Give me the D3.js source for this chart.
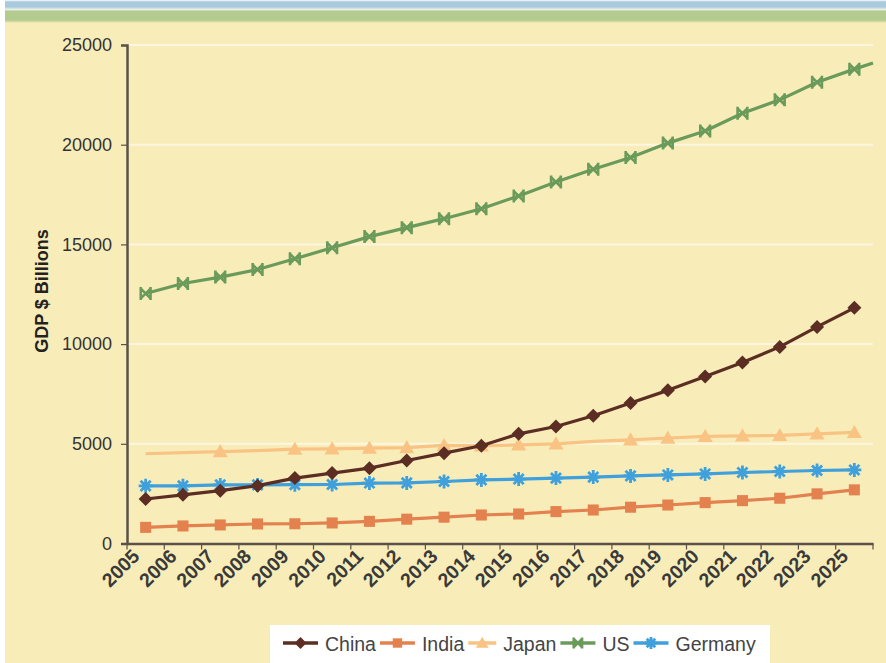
<!DOCTYPE html>
<html><head><meta charset="utf-8">
<script src="https://cdn.jsdelivr.net/npm/d3@7"></script>
<style>
html,body{margin:0;padding:0;background:#fff;}
svg{display:block;font-family:"Liberation Sans",Arial,sans-serif;}
</style></head>
<body>
<script>
const years = ["2005","2006","2007","2008","2009","2010","2011","2012","2013","2014","2015","2016","2017","2018","2019","2020","2021","2022","2023","2025"];
const china   = [2230,2440,2650,2900,3280,3530,3780,4160,4530,4900,5500,5870,6410,7050,7680,8380,9080,9860,10860,11820];
const india   = [810,880,930,980,990,1030,1110,1220,1320,1430,1480,1600,1680,1820,1930,2050,2150,2270,2490,2690];
const japan   = [4500,4560,4610,4660,4730,4750,4780,4810,4920,4900,4950,5000,5120,5200,5290,5370,5400,5420,5500,5570];
const us      = [12540,13040,13360,13740,14280,14830,15390,15840,16290,16790,17430,18130,18770,19360,20080,20690,21580,22250,23130,23790];
const germany = [2890,2890,2940,2940,2950,2960,3030,3040,3110,3190,3230,3280,3330,3390,3440,3490,3560,3610,3660,3690];
const usAxisEnd = 24100;
const japanHiddenMarkers = ["2005","2006","2008","2017"];
const yTicks = [0,5000,10000,15000,20000,25000];
const yTitle = "GDP $ Billions";

const W=886,H=663;
const svg=d3.select("body").append("svg").attr("width",W).attr("height",H);
svg.append("rect").attr("x",5).attr("y",0).attr("width",W-5).attr("height",H).attr("fill","#F8EDB9");
const grad=svg.append("defs").append("linearGradient").attr("id","hdr").attr("x1",0).attr("y1",0).attr("x2",0).attr("y2",1);
[[0,"#ffffff"],[0.08,"#A8CADC"],[0.3,"#A8CADC"],[0.42,"#EEF3EA"],[0.48,"#B4CB8F"],[0.88,"#B4CB8F"],[1,"#F8EDB9"]].forEach(s=>grad.append("stop").attr("offset",s[0]).attr("stop-color",s[1]));
svg.append("rect").attr("x",5).attr("y",0).attr("width",W-5).attr("height",23).attr("fill","url(#hdr)");

const m={l:127,r:873,t:45,b:543.5};
const x=d3.scaleBand().domain(years).range([m.l,m.r]);
const y=d3.scaleLinear().domain([0,25000]).range([m.b,m.t]);
const cx=d=>x(d)+x.bandwidth()/2;

svg.append("g").selectAll("line").data(yTicks.filter(t=>t>0)).join("line")
  .attr("x1",m.l).attr("x2",m.r).attr("y1",d=>y(d)).attr("y2",d=>y(d))
  .attr("stroke","#FCF6E0").attr("stroke-width",2);

const ya=svg.append("g").attr("transform",`translate(${m.l},0)`)
  .call(d3.axisLeft(y).tickValues(yTicks).tickFormat(d3.format("d")).tickSize(6).tickPadding(9));
ya.select(".domain").attr("stroke","#5A5148").attr("stroke-width",2.5);
ya.selectAll(".tick line").attr("stroke","#5A5148").attr("stroke-width",1.2);
ya.selectAll("text").attr("font-size",18).attr("fill","#333");

const xa=svg.append("g").attr("transform",`translate(0,${m.b})`)
  .call(d3.axisBottom(x).tickSize(0).tickFormat(""));
xa.select(".domain").attr("stroke","#5A5148").attr("stroke-width",2.5);
const bounds=years.map(d=>x(d)).concat([m.r]);
xa.append("g").selectAll("line").data(bounds).join("line")
  .attr("x1",d=>d).attr("x2",d=>d).attr("y1",0).attr("y2",6).attr("stroke","#5A5148").attr("stroke-width",1.2);
svg.append("g").selectAll("text").data(years).join("text")
  .attr("transform",d=>`translate(${cx(d)-5},${m.b+14}) rotate(-45)`)
  .attr("text-anchor","end").attr("font-size",19.5).attr("font-weight","bold").attr("fill","#3a3a3a")
  .text(d=>d);

svg.append("text").attr("transform",`translate(48,291) rotate(-90)`)
  .attr("text-anchor","middle").attr("font-size",18).attr("font-weight","bold").attr("fill","#222").text(yTitle);

function marker(g,type,color,s){
  if(type==="diamond"){g.append("path").attr("d",`M0,${-s}L${s},0L0,${s}L${-s},0Z`).attr("fill",color);}
  else if(type==="square"){g.append("rect").attr("x",-s*0.85).attr("y",-s*0.85).attr("width",s*1.7).attr("height",s*1.7).attr("fill",color);}
  else if(type==="triangle"){g.append("path").attr("d",`M0,${-s}L${s},${s*0.75}L${-s},${s*0.75}Z`).attr("fill",color);}
  else if(type==="xbar"){const k=s*0.75;
    g.append("path").attr("d",`M${-k},${-k}L${k},${k}M${-k},${k}L${k},${-k}M${-k},${-s}L${-k},${s}M${k},${-s}L${k},${s}`).attr("stroke",color).attr("stroke-width",2.6).attr("fill","none");}
  else if(type==="star"){const k=s*0.72;
    g.append("path").attr("d",`M${-k},${-k}L${k},${k}M${-k},${k}L${k},${-k}M0,${-s}L0,${s}M${-s},0L${s},0`).attr("stroke",color).attr("stroke-width",2.8).attr("fill","none");}
}

const series=[
  {name:"China",vals:china,color:"#5B2D23",type:"diamond",size:7},
  {name:"India",vals:india,color:"#E3814F",type:"square",size:6.5},
  {name:"Japan",vals:japan,color:"#F9C384",type:"triangle",size:7.5,hide:japanHiddenMarkers},
  {name:"US",vals:us,color:"#6A9B5B",type:"xbar",size:6.5,end:usAxisEnd},
  {name:"Germany",vals:germany,color:"#3FA0DC",type:"star",size:7}
];
const line=d3.line().x(d=>d[0]).y(d=>d[1]);
[2,1,4,0,3].forEach(i=>{
  const s=series[i];
  const pts=years.map((yr,j)=>[cx(yr),y(s.vals[j])]);
  if(s.end!==undefined) pts.push([m.r,y(s.end)]);
  svg.append("path").attr("d",line(pts)).attr("fill","none").attr("stroke",s.color).attr("stroke-width",3.2).attr("stroke-linejoin","round");
  years.forEach((yr,j)=>{
    if(s.hide && s.hide.includes(yr)) return;
    const g=svg.append("g").attr("transform",`translate(${cx(yr)},${y(s.vals[j])})`);
    marker(g,s.type,s.color,s.size);
  });
});

svg.append("rect").attr("x",270).attr("y",625).attr("width",500).attr("height",38).attr("fill","#fff");
let lx=283; const ly=643;
series.forEach(s=>{
  const g=svg.append("g");
  const lw = s.name==="Japan"?28:35;
  g.append("line").attr("x1",lx).attr("x2",lx+lw).attr("y1",ly).attr("y2",ly).attr("stroke",s.color).attr("stroke-width",3.5);
  const mg=g.append("g").attr("transform",`translate(${lx+lw/2},${ly})`);
  marker(mg,s.type,s.color,s.size*0.85);
  const t=g.append("text").attr("x",lx+lw+7).attr("y",ly+7.5).attr("font-size",19.5).attr("fill","#444").text(s.name);
  lx = lx+lw+7+t.node().getComputedTextLength()+4;
});
</script>
</body></html>
